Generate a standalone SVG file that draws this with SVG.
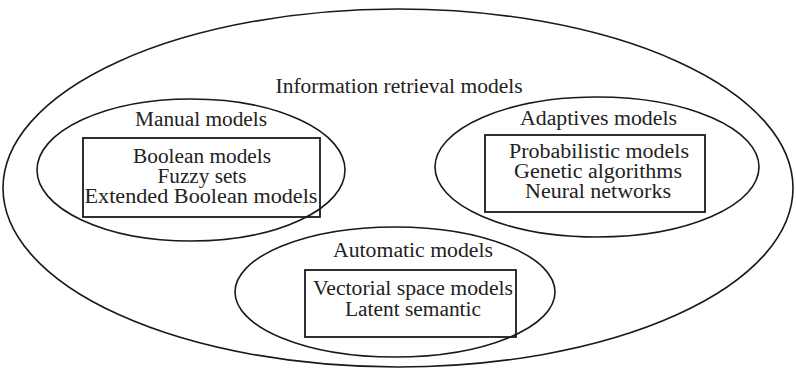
<svg xmlns="http://www.w3.org/2000/svg" width="796" height="371" viewBox="0 0 796 371">
<style>
.shape{fill:none;stroke:#1a1a1a;stroke-width:1.6}
.box{fill:none;stroke:#1a1a1a;stroke-width:1.8}
text{font-family:"Liberation Serif","Times New Roman",serif;font-size:20.5px;fill:#222;text-anchor:middle}
.item{font-size:20px}
</style>
<rect width="796" height="371" fill="#ffffff"/>
<g id="information-retrieval-models">
<ellipse class="shape" cx="398" cy="188" rx="395" ry="179"/>
<text x="399" y="93" textLength="247" lengthAdjust="spacingAndGlyphs">Information retrieval models</text>
</g>
<g id="manual-models">
<ellipse class="shape" cx="191" cy="170" rx="154" ry="71"/>
<text x="201" y="125.5" textLength="132" lengthAdjust="spacingAndGlyphs">Manual models</text>
<rect class="box" x="83" y="138" width="237" height="79"/>
<text class="item" x="202" y="162.5" textLength="138" lengthAdjust="spacingAndGlyphs">Boolean models</text>
<text class="item" x="202" y="182.5" textLength="89" lengthAdjust="spacingAndGlyphs">Fuzzy sets</text>
<text class="item" x="201" y="203" textLength="233" lengthAdjust="spacingAndGlyphs">Extended Boolean models</text>
</g>
<g id="adaptives-models">
<ellipse class="shape" cx="597" cy="167" rx="162" ry="70"/>
<text x="598.5" y="124.5" textLength="157" lengthAdjust="spacingAndGlyphs">Adaptives models</text>
<rect class="box" x="485" y="135" width="220" height="77"/>
<text class="item" x="599" y="158" textLength="180" lengthAdjust="spacingAndGlyphs">Probabilistic models</text>
<text class="item" x="598" y="178" textLength="168" lengthAdjust="spacingAndGlyphs">Genetic algorithms</text>
<text class="item" x="598" y="198" textLength="146" lengthAdjust="spacingAndGlyphs">Neural networks</text>
</g>
<g id="automatic-models">
<ellipse class="shape" cx="395" cy="292" rx="160" ry="65"/>
<text x="413" y="257" textLength="160" lengthAdjust="spacingAndGlyphs">Automatic models</text>
<rect class="box" x="305" y="270" width="211" height="67"/>
<text class="item" x="413" y="294.5" textLength="200" lengthAdjust="spacingAndGlyphs">Vectorial space models</text>
<text class="item" x="413" y="316" textLength="136" lengthAdjust="spacingAndGlyphs">Latent semantic</text>
</g>
<g id="connectors"/>
</svg>
